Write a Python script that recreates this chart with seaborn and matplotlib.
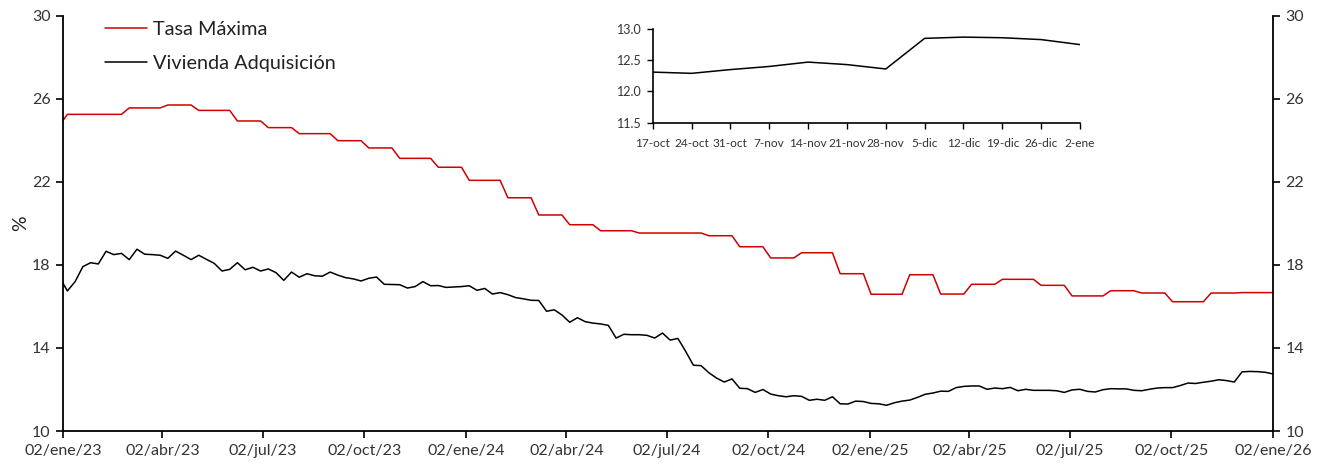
import pandas as pd
import numpy as np
import seaborn as sns
import matplotlib.pyplot as plt

# Fechas semanales (viernes), con el primer dato el 02/ene/23
fechas = [pd.Timestamp('2023-01-02')] + list(pd.date_range('2023-01-06', '2026-01-02', freq='W-FRI'))

# Tasa máxima (%)
tasa_maxima = [
    24.96,
    25.26, 25.26, 25.26, 25.26, 25.26, 25.26, 25.26, 25.26,
    25.57, 25.57, 25.57, 25.57, 25.57,
    25.71, 25.71, 25.71, 25.71,
    25.45, 25.45, 25.45, 25.45, 25.45,
    24.94, 24.94, 24.94, 24.94,
    24.62, 24.62, 24.62, 24.62,
    24.33, 24.33, 24.33, 24.33, 24.33,
    23.99, 23.99, 23.99, 23.99,
    23.64, 23.64, 23.64, 23.64,
    23.14, 23.14, 23.14, 23.14, 23.14,
    22.71, 22.71, 22.71, 22.71,
    22.08, 22.08, 22.08, 22.08, 22.08,
    21.24, 21.24, 21.24, 21.24,
    20.41, 20.41, 20.41, 20.41,
    19.94, 19.94, 19.94, 19.94,
    19.65, 19.65, 19.65, 19.65, 19.65,
    19.54, 19.54, 19.54, 19.54, 19.54, 19.54, 19.54, 19.54, 19.54,
    19.41, 19.41, 19.41, 19.41,
    18.88, 18.88, 18.88, 18.88,
    18.34, 18.34, 18.34, 18.34,
    18.59, 18.59, 18.59, 18.59, 18.59,
    17.58, 17.58, 17.58, 17.58,
    16.59, 16.59, 16.59, 16.59, 16.59,
    17.53, 17.53, 17.53, 17.53,
    16.60, 16.60, 16.60, 16.60,
    17.07, 17.07, 17.07, 17.07,
    17.31, 17.31, 17.31, 17.31, 17.31,
    17.02, 17.02, 17.02, 17.02,
    16.51, 16.51, 16.51, 16.51, 16.51,
    16.76, 16.76, 16.76, 16.76,
    16.65, 16.65, 16.65, 16.65,
    16.23, 16.23, 16.23, 16.23, 16.23,
    16.65, 16.65, 16.65, 16.65,
    16.67, 16.67, 16.67, 16.67, 16.67,
]

# Vivienda adquisición (%)
vivienda = [
    17.12, 16.75, 17.20, 17.92, 18.11, 18.05, 18.66, 18.50, 18.56, 18.26,
    18.76, 18.52, 18.50, 18.47, 18.32, 18.67, 18.47, 18.26, 18.47, 18.27,
    18.08, 17.71, 17.79, 18.11, 17.77, 17.89, 17.71, 17.81, 17.63, 17.26,
    17.66, 17.41, 17.58, 17.48, 17.46, 17.66, 17.51, 17.39, 17.33, 17.23,
    17.36, 17.42, 17.07, 17.06, 17.05, 16.89, 16.96, 17.20, 17.00, 17.01,
    16.92, 16.94, 16.96, 17.00, 16.78, 16.87, 16.60, 16.67, 16.57, 16.43,
    16.37, 16.30, 16.29, 15.77, 15.84, 15.59, 15.24, 15.46, 15.27, 15.20,
    15.16, 15.09, 14.48, 14.66, 14.64, 14.64, 14.61, 14.48, 14.72, 14.38,
    14.46, 13.84, 13.17, 13.15, 12.81, 12.55, 12.36, 12.51, 12.06, 12.04,
    11.86, 12.00, 11.78, 11.70, 11.65, 11.70, 11.67, 11.48, 11.53, 11.48,
    11.65, 11.31, 11.30, 11.44, 11.42, 11.33, 11.31, 11.24, 11.36, 11.44,
    11.49, 11.62, 11.77, 11.83, 11.92, 11.91, 12.09, 12.15, 12.17, 12.17,
    12.01, 12.07, 12.04, 12.10, 11.94, 12.01, 11.96, 11.96, 11.96, 11.94,
    11.86, 11.98, 12.01, 11.91, 11.88, 11.99, 12.04, 12.03, 12.03, 11.96,
    11.94, 12.01, 12.07, 12.09, 12.09, 12.19, 12.31, 12.29, 12.35, 12.40,
    12.47, 12.43, 12.36, 12.85, 12.87, 12.86, 12.83, 12.75,
]

# Recuadro: últimas 12 semanas
inset_labels = ['17-oct', '24-oct', '31-oct', '7-nov', '14-nov', '21-nov',
                '28-nov', '5-dic', '12-dic', '19-dic', '26-dic', '2-ene']
inset_vals = [12.31, 12.29, 12.35, 12.40, 12.47, 12.43,
              12.36, 12.85, 12.87, 12.86, 12.83, 12.75]

# Ticks del eje x
xtick_fechas = pd.to_datetime(['2023-01-02', '2023-04-02', '2023-07-02', '2023-10-02',
                               '2024-01-02', '2024-04-02', '2024-07-02', '2024-10-02',
                               '2025-01-02', '2025-04-02', '2025-07-02', '2025-10-02',
                               '2026-01-02'])
xtick_labels = ['02/ene/23', '02/abr/23', '02/jul/23', '02/oct/23',
                '02/ene/24', '02/abr/24', '02/jul/24', '02/oct/24',
                '02/ene/25', '02/abr/25', '02/jul/25', '02/oct/25',
                '02/ene/26']

sns.set_style('white')
plt.rcParams['font.family'] = ['Lato', 'DejaVu Sans']

df = pd.DataFrame({
    'fecha': fechas * 2,
    'valor': tasa_maxima + vivienda,
    'serie': ['Tasa Máxima'] * len(fechas) + ['Vivienda Adquisición'] * len(fechas),
})

fig = plt.figure(figsize=(13.26, 4.66), dpi=100)
ax = fig.add_axes([0.0475, 0.0751, 0.9125, 0.8906])

sns.lineplot(data=df, x='fecha', y='valor', hue='serie',
             palette={'Tasa Máxima': '#D00000', 'Vivienda Adquisición': '#000000'},
             linewidth=1.1, ax=ax)

ax.set_xlim(pd.Timestamp('2023-01-02'), pd.Timestamp('2026-01-02'))
ax.set_ylim(10, 30)
ax.set_yticks([10, 14, 18, 22, 26, 30])
ax.set_xticks(xtick_fechas)
ax.set_xticklabels(xtick_labels)
ax.set_xlabel('')
ax.set_ylabel('%', fontsize=14, color='#222222', labelpad=2)
ax.tick_params(axis='both', direction='out', length=5, width=1.2, color='black',
               labelsize=11.5, labelcolor='#333333', pad=4)
ax.tick_params(axis='y', right=True, labelright=True, left=True)
ax.tick_params(axis='x', bottom=True)
for side in ['left', 'right', 'bottom']:
    ax.spines[side].set_color('black')
    ax.spines[side].set_linewidth(1.3)
ax.spines['top'].set_visible(False)

leg = ax.legend(loc='upper left', bbox_to_anchor=(0.02, 1.03), frameon=False,
                fontsize=14.3, handlelength=2.1, handletextpad=0.3, labelspacing=0.85)
for t in leg.get_texts():
    t.set_color('#222222')

# Recuadro
ax2 = fig.add_axes([0.4922, 0.7367, 0.3223, 0.2011])
inset_df = pd.DataFrame({'semana': inset_labels, 'valor': inset_vals})
sns.lineplot(data=inset_df, x='semana', y='valor', color='black', linewidth=1.1,
             sort=False, ax=ax2)
ax2.set_xlim(0, len(inset_labels) - 1)
ax2.set_ylim(11.5, 13.0)
ax2.set_yticks([11.5, 12.0, 12.5, 13.0])
ax2.set_yticklabels(['11.5', '12.0', '12.5', '13.0'])
ax2.set_xlabel('')
ax2.set_ylabel('')
ax2.tick_params(axis='both', direction='out', length=4, width=1.0, color='black',
                labelsize=9, labelcolor='#333333', pad=4)
ax2.tick_params(axis='x', bottom=True, pad=7)
ax2.tick_params(axis='y', left=True)
for t in ax2.get_xticklabels():
    t.set_fontsize(8.6)
ax2.spines['top'].set_visible(False)
ax2.spines['right'].set_visible(False)
for side in ['left', 'bottom']:
    ax2.spines[side].set_color('black')
    ax2.spines[side].set_linewidth(1.2)
ax2.patch.set_alpha(0)

fig.savefig('out.png', dpi=100)
